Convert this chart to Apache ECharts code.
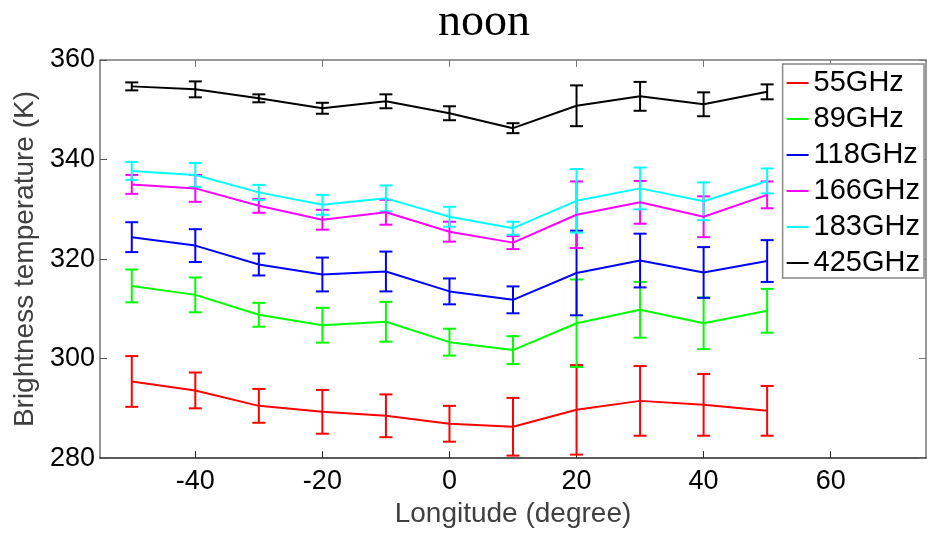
<!DOCTYPE html>
<html>
<head>
<meta charset="utf-8">
<script src="https://cdn.jsdelivr.net/npm/echarts@6/dist/echarts.min.js"></script>
<style>html,body{margin:0;padding:0;background:#fff}#c{width:936px;height:533px}</style>
</head>
<body>
<div id="c"></div>
<script>
const longitudes = [-50, -40, -30, -20, -10, 0, 10, 20, 30, 40, 50];
const xTicks = [-40, -20, 0, 20, 40, 60];
const yTicks = [280, 300, 320, 340, 360];
const seriesNames = ['55GHz', '89GHz', '118GHz', '166GHz', '183GHz', '425GHz'];
const seriesColors = ['#ff0000', '#00ff00', '#0000ff', '#ff00ff', '#00ffff', '#000000'];

const t55  = [295.4, 293.6, 290.5, 289.3, 288.5, 286.9, 286.3, 289.7, 291.5, 290.7, 289.5];
const e55  = [5.1, 3.6, 3.4, 4.4, 4.3, 3.6, 5.8, 9.0, 7.0, 6.2, 5.0];
const t89  = [314.6, 312.8, 308.8, 306.7, 307.4, 303.3, 301.7, 307.1, 309.8, 307.1, 309.6];
const e89  = [3.3, 3.5, 2.4, 3.5, 4.0, 2.7, 2.8, 8.8, 5.6, 5.2, 4.4];
const t118 = [324.4, 322.7, 318.9, 316.9, 317.5, 313.5, 311.8, 317.2, 319.7, 317.3, 319.6];
const e118 = [3.0, 3.3, 2.2, 3.4, 4.0, 2.6, 2.7, 8.5, 5.4, 5.1, 4.2];
const t166 = [335.0, 334.2, 330.7, 327.9, 329.4, 325.5, 323.3, 328.9, 331.4, 328.5, 332.9];
const e166 = [1.9, 2.7, 1.4, 2.0, 2.5, 2.0, 1.3, 6.7, 4.3, 4.1, 2.7];
const t183 = [337.7, 336.9, 333.4, 330.9, 332.2, 328.5, 326.2, 331.7, 334.2, 331.6, 335.7];
const e183 = [1.8, 2.4, 1.5, 2.0, 2.6, 2.0, 1.3, 6.4, 4.2, 3.8, 2.5];
const t425 = [354.7, 354.1, 352.3, 350.3, 351.7, 349.3, 346.3, 350.8, 352.7, 351.1, 353.6];
const e425 = [0.8, 1.6, 0.8, 1.1, 1.4, 1.4, 1.0, 4.1, 2.9, 2.4, 1.5];

const means = [t55, t89, t118, t166, t183, t425];
const errs = [e55, e89, e118, e166, e183, e425];

const FONT = '"Liberation Sans", Arial, sans-serif';
const chart = echarts.init(document.getElementById('c'), null, {renderer: 'canvas'});

const series = [];
means.forEach((m, i) => {
  const col = seriesColors[i];
  series.push({
    name: seriesNames[i],
    type: 'line',
    data: longitudes.map((x, k) => [x, m[k]]),
    symbol: 'none',
    lineStyle: {color: col, width: 2},
    itemStyle: {color: col},
    z: 3,
    animation: false
  });
  series.push({
    name: seriesNames[i],
    type: 'custom',
    data: longitudes.map((x, k) => [x, m[k] - errs[i][k], m[k] + errs[i][k]]),
    encode: {x: 0, y: [1, 2]},
    z: 3,
    animation: false,
    renderItem: function (params, api) {
      const lo = api.coord([api.value(0), api.value(1)]);
      const hi = api.coord([api.value(0), api.value(2)]);
      const hw = 6.5;
      const st = {stroke: col, lineWidth: 2, fill: null};
      return {
        type: 'group',
        children: [
          {type: 'line', shape: {x1: lo[0], y1: lo[1], x2: hi[0], y2: hi[1]}, style: st},
          {type: 'line', shape: {x1: lo[0] - hw, y1: lo[1], x2: lo[0] + hw, y2: lo[1]}, style: st},
          {type: 'line', shape: {x1: hi[0] - hw, y1: hi[1], x2: hi[0] + hw, y2: hi[1]}, style: st}
        ]
      };
    }
  });
});

const axLine = {show: true, onZero: false, lineStyle: {color: '#262626', width: 1.5}};
const axLineLight = {show: true, onZero: false, lineStyle: {color: '#777', width: 1.5}};

chart.setOption({
  animation: false,
  backgroundColor: '#fff',
  title: {
    text: 'noon',
    left: 479, top: -5,
    textAlign: 'center',
    textStyle: {fontFamily: '"Liberation Serif", "Times New Roman", serif', fontWeight: 'normal', fontSize: 46, color: '#000'}
  },
  grid: {left: 100, right: 10, top: 60, bottom: 72, containLabel: false},
  legend: {
    data: seriesNames.map(n => ({name: n})),
    orient: 'vertical',
    right: 12, top: 64,
    backgroundColor: '#fff',
    borderColor: '#888', borderWidth: 1.5,
    padding: [4, 4, 0, 4],
    itemGap: 6,
    itemWidth: 22, itemHeight: 2,
    icon: 'rect',
    textStyle: {fontFamily: FONT, fontSize: 29, color: '#000', lineHeight: 30},
    selectedMode: false,
    z: 10
  },
  xAxis: [{
    type: 'value', position: 'bottom', min: -55, max: 75,
    axisLine: axLine,
    axisTick: {show: true, inside: true, length: 7, customValues: xTicks, lineStyle: {color: '#262626'}},
    axisLabel: {customValues: xTicks, fontFamily: FONT, fontSize: 27, color: '#000', margin: 10},
    splitLine: {show: false},
    name: 'Longitude (degree)', nameLocation: 'middle', nameGap: 39,
    nameTextStyle: {fontFamily: FONT, fontSize: 28, color: '#404040'}
  }, {
    type: 'value', position: 'top', min: -55, max: 75,
    axisLine: axLineLight,
    axisTick: {show: true, inside: true, length: 7, customValues: xTicks, lineStyle: {color: '#777'}},
    axisLabel: {show: false},
    splitLine: {show: false}
  }],
  yAxis: [{
    type: 'value', position: 'left', min: 280, max: 360, interval: 20,
    axisLine: axLineLight,
    axisTick: {show: true, inside: true, length: 7, lineStyle: {color: '#555'}},
    axisLabel: {fontFamily: FONT, fontSize: 27, color: '#000', margin: 5},
    splitLine: {show: false},
    name: 'Brightness temperature (K)', nameLocation: 'middle', nameGap: 58,
    nameTextStyle: {fontFamily: FONT, fontSize: 28, color: '#404040'}
  }, {
    type: 'value', position: 'right', min: 280, max: 360, interval: 20,
    axisLine: axLineLight,
    axisTick: {show: true, inside: true, length: 7, lineStyle: {color: '#777'}},
    axisLabel: {show: false},
    splitLine: {show: false}
  }],
  series: series
});
</script>
</body>
</html>
